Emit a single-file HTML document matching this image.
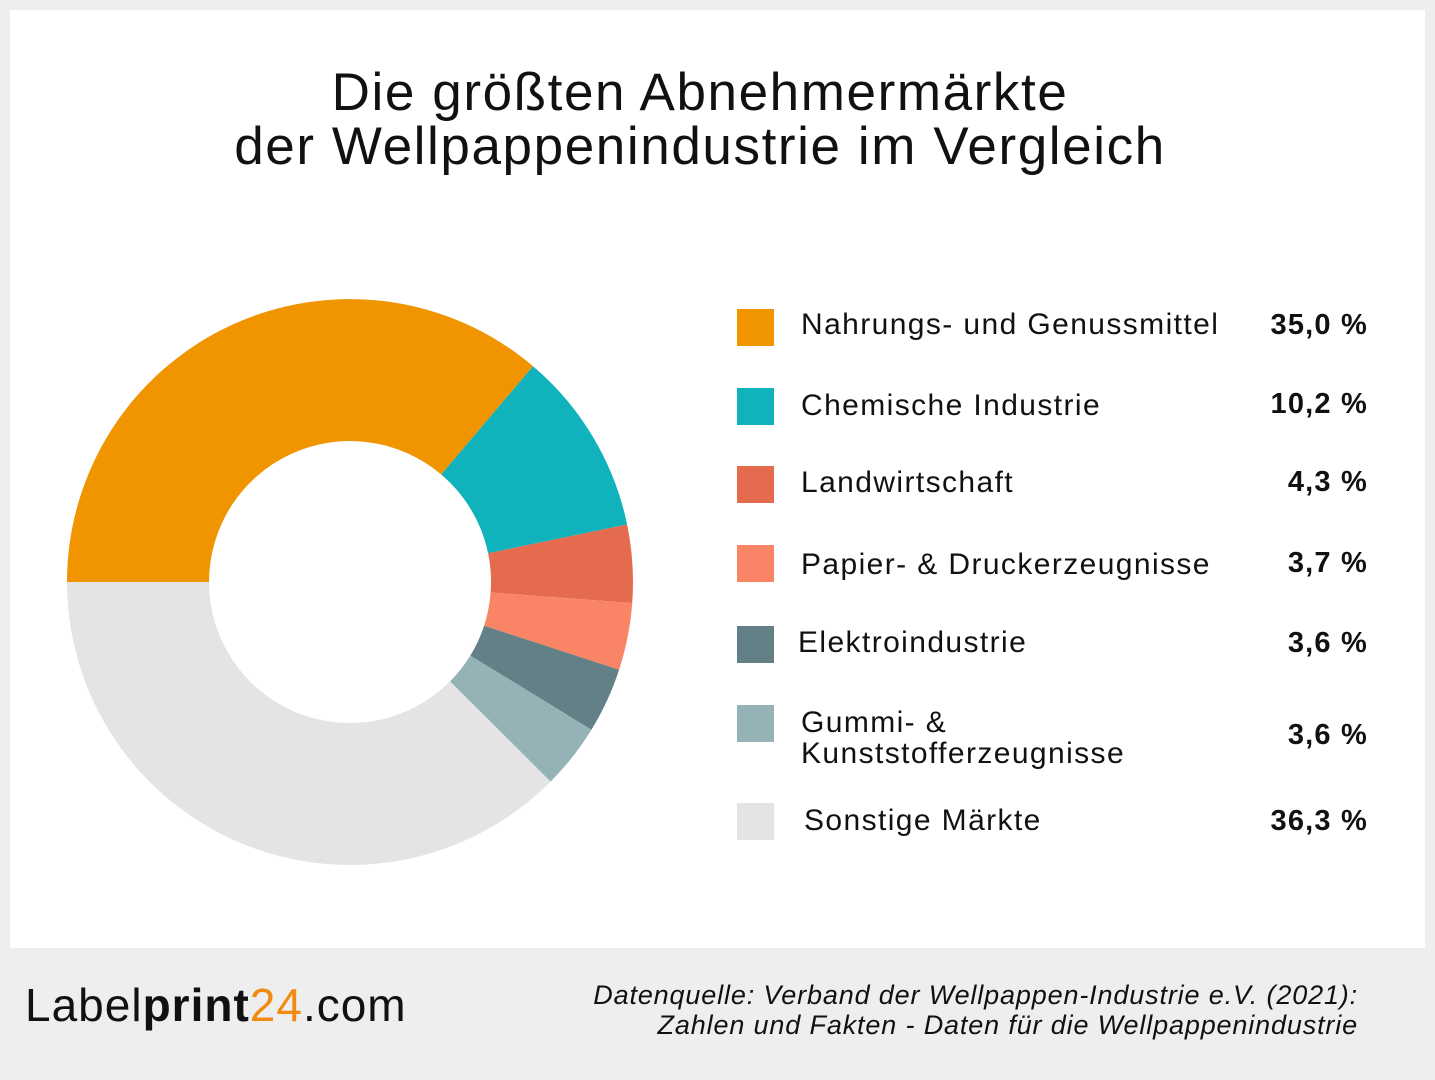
<!DOCTYPE html><html><head><meta charset="utf-8"><style>
body{margin:0;width:1435px;height:1080px;background:#eeeeee;font-family:"Liberation Sans","DejaVu Sans",sans-serif;position:relative;overflow:hidden}
.panel{position:absolute;left:10px;top:10px;width:1415px;height:938px;background:#fff}
.t{position:absolute;white-space:nowrap}
.title{left:0;width:1400px;text-align:center;top:66px;font-size:53px;line-height:54px;color:#111;letter-spacing:1.6px}
.sq{position:absolute;left:737px;width:37px;height:37px}
.lab{position:absolute;left:801px;font-size:30px;color:#111;line-height:31px;letter-spacing:1.4px}
.val{position:absolute;right:67px;font-size:29px;font-weight:bold;color:#111;letter-spacing:1.2px}
</style></head><body>
<div class="panel"></div>
<div class="t title">Die größten Abnehmermärkte<br>der Wellpappenindustrie im Vergleich</div>
<svg style="position:absolute;left:0;top:0" width="1435" height="1080">
<path d="M67 582 A283 283 0 0 1 533 366.2 L441.2 474.5 A141 141 0 0 0 209 582Z" fill="#f09400"/>
<path d="M533 366.2 A283 283 0 0 1 627.1 524.5 L488.1 553.3 A141 141 0 0 0 441.2 474.5Z" fill="#10b3bb"/>
<path d="M627.1 524.5 A283 283 0 0 1 632.2 603.1 L490.6 592.5 A141 141 0 0 0 488.1 553.3Z" fill="#e56b4f"/>
<path d="M632.2 603.1 A283 283 0 0 1 619.1 669.7 L484.1 625.7 A141 141 0 0 0 490.6 592.5Z" fill="#fa8466"/>
<path d="M619.1 669.7 A283 283 0 0 1 591.4 729.7 L470.3 655.6 A141 141 0 0 0 484.1 625.7Z" fill="#628085"/>
<path d="M591.4 729.7 A283 283 0 0 1 550.6 781.6 L450 681.4 A141 141 0 0 0 470.3 655.6Z" fill="#95b3b7"/>
<path d="M550.6 781.6 A283 283 0 0 1 67 582 L209 582 A141 141 0 0 0 450 681.4Z" fill="#e4e4e4"/>
</svg>
<div class="sq" style="top:309px;background:#f09400"></div>
<div class="sq" style="top:388px;background:#10b3bb"></div>
<div class="sq" style="top:466px;background:#e56b4f"></div>
<div class="sq" style="top:545px;background:#fa8466"></div>
<div class="sq" style="top:626px;background:#628085"></div>
<div class="sq" style="top:705px;background:#95b3b7"></div>
<div class="sq" style="top:803px;background:#e4e4e4"></div>
<div class="lab" style="top:309px">Nahrungs- und Genussmittel</div>
<div class="lab" style="top:390px">Chemische Industrie</div>
<div class="lab" style="top:467px">Landwirtschaft</div>
<div class="lab" style="top:549px">Papier- &amp; Druckerzeugnisse</div>
<div class="lab" style="top:627px;left:798px">Elektroindustrie</div>
<div class="lab" style="top:707px">Gummi- &amp;<br>Kunststofferzeugnisse</div>
<div class="lab" style="top:805px;left:804px">Sonstige Märkte</div>
<div class="val" style="top:309px">35,0 %</div>
<div class="val" style="top:388px">10,2 %</div>
<div class="val" style="top:466px">4,3 %</div>
<div class="val" style="top:547px">3,7 %</div>
<div class="val" style="top:627px">3,6 %</div>
<div class="val" style="top:719px">3,6 %</div>
<div class="val" style="top:805px">36,3 %</div>
<div class="t" style="left:25px;top:978px;font-size:46px;color:#111;letter-spacing:1px">Label<span style="font-weight:bold">print</span><span style="color:#f08a10">24</span>.com</div>
<div class="t" style="right:77px;top:980px;font-size:27px;font-style:italic;text-align:right;line-height:30px;color:#111;letter-spacing:0.85px">Datenquelle: Verband der Wellpappen-Industrie e.V. (2021):<br>Zahlen und Fakten - Daten für die Wellpappenindustrie</div>
</body></html>
